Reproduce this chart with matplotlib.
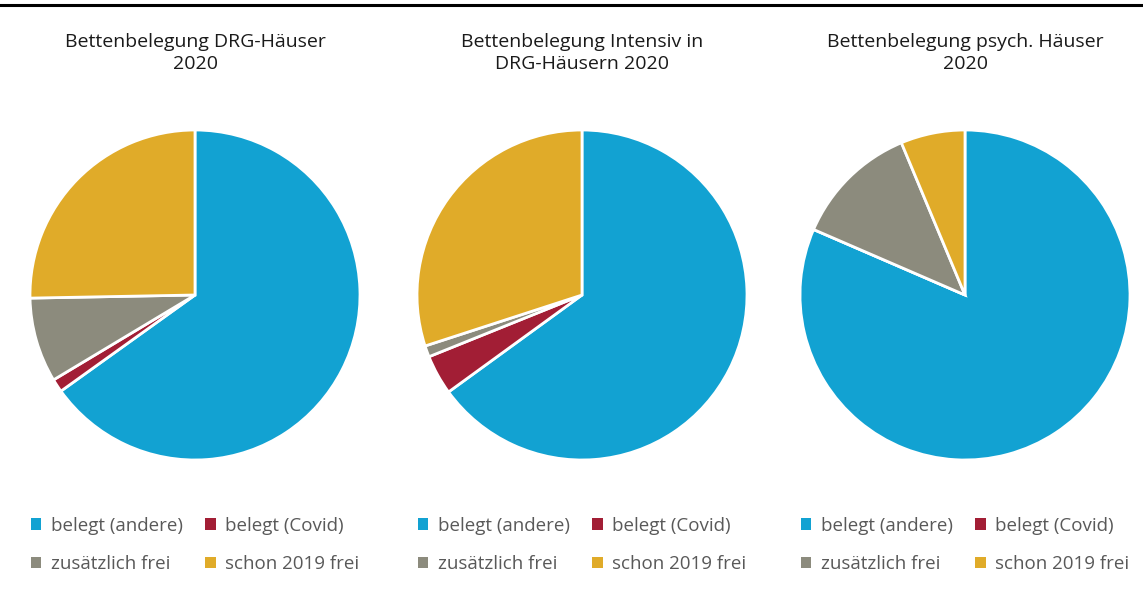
import matplotlib.pyplot as plt
from matplotlib.patches import Patch

plt.rcParams['font.family'] = ['Open Sans', 'DejaVu Sans']

labels = ["belegt (andere)", "belegt (Covid)", "zusätzlich frei", "schon 2019 frei"]
colors = ["#12A2D2", "#A21E35", "#8C8B7D", "#E0AB29"]

titles = ["Bettenbelegung DRG-Häuser\n2020",
          "Bettenbelegung Intensiv in\nDRG-Häusern 2020",
          "Bettenbelegung psych. Häuser\n2020"]

drg = [65.1, 1.3, 8.3, 25.3]
intensiv = [65.0, 3.9, 1.1, 30.0]
psych = [81.5, 0.0, 12.2, 6.3]
all_values = [drg, intensiv, psych]

W, H = 1143, 590
fig = plt.figure(figsize=(W / 100, H / 100), dpi=100)

# top rule
fig.add_artist(plt.Line2D([0, 1], [1 - 5 / H, 1 - 5 / H], color="black", lw=2.2))

# legend fills column-wise, so reorder to read row-wise
order = [0, 2, 1, 3]

centers = [195, 582, 965]
r = 165
cy = 295
for cx, vals, title in zip(centers, all_values, titles):
    ax = fig.add_axes([(cx - r) / W, (H - cy - r) / H, 2 * r / W, 2 * r / H])
    ax.pie(vals, colors=colors, startangle=90, counterclock=False,
           wedgeprops=dict(edgecolor="white", linewidth=2))
    ax.set_xlim(-1.0, 1.0)
    ax.set_ylim(-1.0, 1.0)
    ax.set_aspect("equal")
    fig.text(cx / W, 1 - 53 / H, title, ha="center", va="center",
             fontsize=14, color="#1a1a1a", linespacing=1.35)
    handles = [Patch(facecolor=colors[i], edgecolor="none") for i in order]
    fig.legend(handles, [labels[i] for i in order], ncol=2, loc="center",
               frameon=False, bbox_to_anchor=(cx / W, 1 - 545 / H), fontsize=13.5,
               labelcolor="#595959", handlelength=0.55, handleheight=0.55,
               handletextpad=0.5, columnspacing=1.2, labelspacing=1.1)

fig.savefig("out.png", dpi=100)
